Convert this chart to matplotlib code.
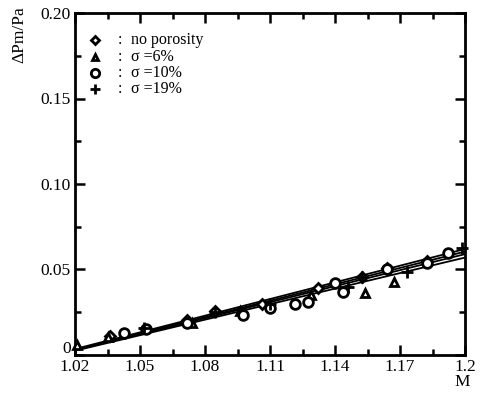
import matplotlib
matplotlib.use('Agg')
import matplotlib.pyplot as plt
import matplotlib.transforms as mtransforms
from matplotlib.ticker import MultipleLocator, FixedLocator

# ── data ────────────────────────────────────────────────────
m_nopor = [1.036, 1.0717, 1.0846, 1.1063, 1.132, 1.1523, 1.164, 1.1825]
v_nopor = [0.011, 0.0205, 0.0257, 0.030, 0.039, 0.0456, 0.051, 0.055]

m_s6 = [1.021, 1.035, 1.074, 1.096, 1.129, 1.154, 1.1672]
v_s6 = [0.006, 0.0105, 0.019, 0.026, 0.035, 0.036, 0.0427]

m_s10 = [1.0426, 1.0528, 1.0717, 1.0975, 1.110, 1.1215, 1.1275, 1.140, 1.1437, 1.164, 1.1825, 1.1922]
v_s10 = [0.013, 0.015, 0.019, 0.0234, 0.0275, 0.030, 0.031, 0.042, 0.037, 0.050, 0.054, 0.0597]

m_s19 = [1.052, 1.0846, 1.110, 1.146, 1.1523, 1.173, 1.1986]
v_s19 = [0.016, 0.025, 0.030, 0.040, 0.0456, 0.0486, 0.0626]

# fitted lines (start / end values)
fit_m = [1.02, 1.2]
fit_lines = [[0.0035, 0.0620], [0.0030, 0.0605], [0.0028, 0.0590], [0.0025, 0.0570]]

labels = ['no porosity', 'σ =6%', 'σ =10%', 'σ =19%']
markers = ['D', '^', 'o', '+']

xticks = [1.02, 1.05, 1.08, 1.11, 1.14, 1.17, 1.2]
xtick_labels = ['1.02', '1.05', '1.08', '1.11', '1.14', '1.17', '1.2']
yticks = [0, 0.05, 0.10, 0.15, 0.20]
ytick_labels = ['0', '0.05', '0.10', '0.15', '0.20']

plt.rcParams['font.family'] = ['Liberation Serif', 'DejaVu Serif']

fig = plt.figure(figsize=(4.81, 3.94), dpi=100)
ax = fig.add_axes([0.156, 0.099, 0.811, 0.868])

for vals in fit_lines:
    ax.plot(fit_m, vals, color='black', lw=1.3)

series = [(m_nopor, v_nopor), (m_s6, v_s6), (m_s10, v_s10), (m_s19, v_s19)]
sizes = [5, 5.5, 7, 8]
for (mx, vy), mk, sz in zip(series, markers, sizes):
    ax.plot(mx, vy, linestyle='none', marker=mk, ms=sz, mfc='white',
            mec='black', mew=2, clip_on=False, zorder=3)

# legend drawn by hand
for i, (mk, lab, sz) in enumerate(zip(markers, labels, sizes)):
    y = 0.184 - i * 0.0095
    ax.plot([1.029], [y], marker=mk, ms=sz - 1, mfc='white', mec='black',
            mew=2, linestyle='none')
    ax.text(1.0405, y, ':', fontsize=11.5, va='center', ha='center')
    ax.text(1.046, y, lab, fontsize=11.5, va='center', ha='left')

ax.set_xlim(1.02, 1.2)
ax.set_ylim(0, 0.20)
ax.xaxis.set_major_locator(FixedLocator(xticks))
ax.xaxis.set_minor_locator(FixedLocator([1.035, 1.065, 1.095, 1.125, 1.155, 1.185]))
ax.set_xticklabels(xtick_labels)
ax.set_yticks(yticks)
ax.yaxis.set_minor_locator(MultipleLocator(0.025))
ax.set_yticklabels(ytick_labels)

ax.tick_params(which='both', direction='in', top=True, right=True,
               labelsize=12.5, width=1.8)
ax.tick_params(which='major', length=7, pad=3)
ax.tick_params(which='minor', length=4)
for sp in ax.spines.values():
    sp.set_linewidth(2)

# lift the "0" label so it clears "1.02"
zero = ax.get_yticklabels()[0]
zero.set_transform(zero.get_transform() +
                   mtransforms.ScaledTranslation(0, 6 / 72, fig.dpi_scale_trans))

fig.text(0.04, 0.985, 'ΔPm/Pa', rotation=90, fontsize=12.5,
         ha='center', va='top')
fig.text(0.96, 0.01, 'M', fontsize=12.5, ha='center', va='bottom')

fig.savefig('out.png', dpi=100)
